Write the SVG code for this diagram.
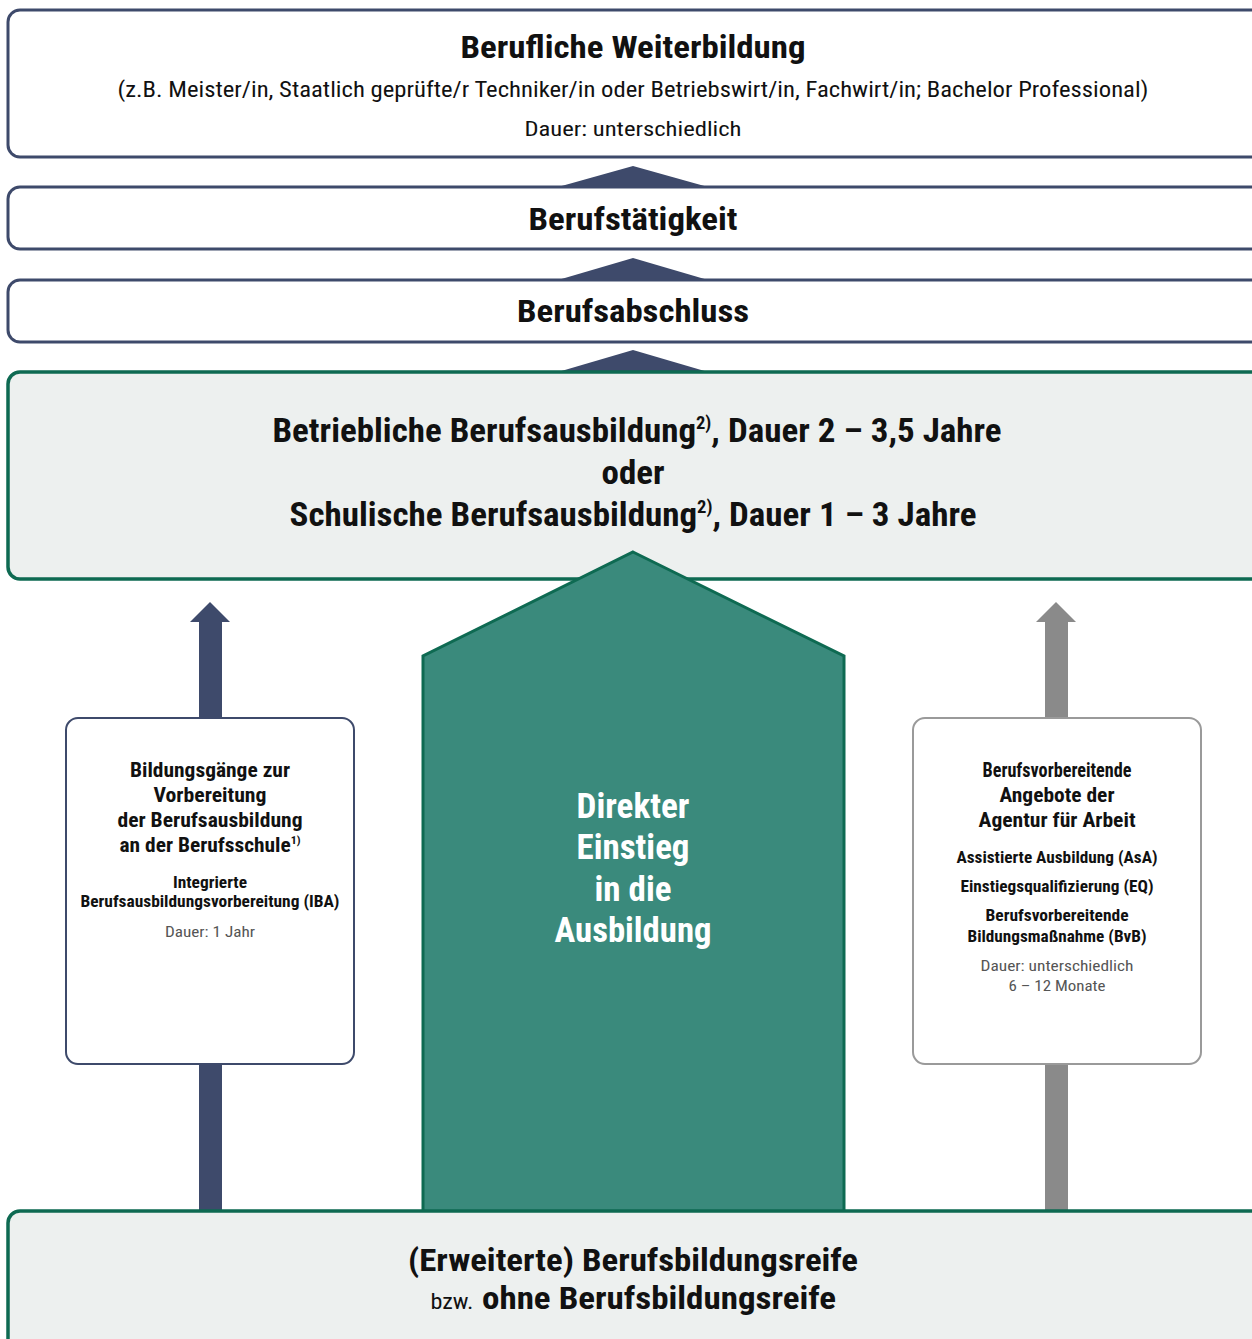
<svg xmlns="http://www.w3.org/2000/svg" width="1252" height="1339" viewBox="0 0 1252 1339">
<style>
text{font-family:"Roboto Condensed",Roboto,"Liberation Sans",sans-serif;fill:#111;text-anchor:middle}
.b{font-weight:700}
.r{font-weight:400}
.big{font-size:34px}
.h2{font-size:20px}
.h3{font-size:16px}
.dur{font-size:15px;fill:#555;font-weight:400}
.blueBox{fill:#fff;stroke:#3e4a6b;stroke-width:3}
.greenBox{fill:#edf0ef;stroke:#0e6a52;stroke-width:3.5}
.blue{fill:#3e4a6b}
.gray{fill:#8a8a8a}
.wt{fill:#fff}
</style>
<rect width="1252" height="1339" fill="#fff"/>

<g id="connectors">
  <polygon class="blue" points="633,166 708,187 558,187"/>
  <polygon class="blue" points="633,258 708,280 558,280"/>
  <polygon class="blue" points="633,350 708,372 558,372"/>
  <rect class="blue" x="199" y="619" width="23" height="593"/>
  <polygon class="blue" points="210,602 230,622 190,622"/>
  <rect class="gray" x="1045" y="619" width="23" height="593"/>
  <polygon class="gray" points="1056,602 1076,622 1036,622"/>
</g>

<g id="weiterbildung">
  <rect class="blueBox" x="8" y="10" width="1262" height="147" rx="12"/>
  <text class="b" x="633" y="58" font-size="32" textLength="345" lengthAdjust="spacingAndGlyphs">Berufliche Weiterbildung</text>
  <text class="r" x="633" y="97" font-size="22" textLength="1031" lengthAdjust="spacingAndGlyphs">(z.B. Meister/in, Staatlich geprüfte/r Techniker/in oder Betriebswirt/in, Fachwirt/in; Bachelor Professional)</text>
  <text class="r" x="633" y="136" font-size="21" textLength="217" lengthAdjust="spacingAndGlyphs">Dauer: unterschiedlich</text>
</g>

<g id="berufstaetigkeit">
  <rect class="blueBox" x="8" y="187" width="1262" height="62" rx="12"/>
  <text class="b" x="633" y="230" font-size="32" textLength="209" lengthAdjust="spacingAndGlyphs">Berufstätigkeit</text>
</g>

<g id="berufsabschluss">
  <rect class="blueBox" x="8" y="280" width="1262" height="62" rx="12"/>
  <text class="b" x="633" y="322" font-size="32" textLength="232" lengthAdjust="spacingAndGlyphs">Berufsabschluss</text>
</g>

<g id="berufsausbildung">
  <rect class="greenBox" x="8" y="372" width="1262" height="207" rx="12"/>
  <text class="b big" x="637" y="442" textLength="729" lengthAdjust="spacingAndGlyphs">Betriebliche Berufsausbildung<tspan font-size="18" dy="-13">2)</tspan><tspan dy="13">, Dauer 2 – 3,5 Jahre</tspan></text>
  <text class="b big" x="633" y="484" textLength="63" lengthAdjust="spacingAndGlyphs">oder</text>
  <text class="b big" x="633" y="526" textLength="687" lengthAdjust="spacingAndGlyphs">Schulische Berufsausbildung<tspan font-size="18" dy="-13">2)</tspan><tspan dy="13">, Dauer 1 – 3 Jahre</tspan></text>
</g>

<g id="direkter-einstieg">
  <polygon points="633,552 844,656 844,1212 423,1212 423,656" fill="#3a8a7c" stroke="#0e6a52" stroke-width="3"/>
  <text class="b wt" x="633" y="818" font-size="35" textLength="113" lengthAdjust="spacingAndGlyphs">Direkter</text>
  <text class="b wt" x="633" y="859" font-size="35" textLength="113" lengthAdjust="spacingAndGlyphs">Einstieg</text>
  <text class="b wt" x="633" y="901" font-size="35" textLength="77" lengthAdjust="spacingAndGlyphs">in die</text>
  <text class="b wt" x="633" y="942" font-size="35" textLength="157" lengthAdjust="spacingAndGlyphs">Ausbildung</text>
</g>

<g id="bildungsgaenge">
  <rect x="66" y="718" width="288" height="346" rx="12" fill="#fff" stroke="#3e4a6b" stroke-width="2"/>
  <text class="b h2" x="210" y="777" textLength="160" lengthAdjust="spacingAndGlyphs">Bildungsgänge zur</text>
  <text class="b h2" x="210" y="802" textLength="113" lengthAdjust="spacingAndGlyphs">Vorbereitung</text>
  <text class="b h2" x="210" y="827" textLength="185" lengthAdjust="spacingAndGlyphs">der Berufsausbildung</text>
  <text class="b h2" x="210" y="852" textLength="181" lengthAdjust="spacingAndGlyphs">an der Berufsschule<tspan font-size="11" dy="-8">1)</tspan></text>
  <text class="b h3" x="210" y="888" textLength="74" lengthAdjust="spacingAndGlyphs">Integrierte</text>
  <text class="b h3" x="210" y="907" textLength="259" lengthAdjust="spacingAndGlyphs">Berufsausbildungsvorbereitung (IBA)</text>
  <text class="dur" x="210" y="937" textLength="90" lengthAdjust="spacingAndGlyphs">Dauer: 1 Jahr</text>
</g>

<g id="agentur">
  <rect x="913" y="718" width="288" height="346" rx="12" fill="#fff" stroke="#9a9a9a" stroke-width="2"/>
  <text class="b h2" x="1057" y="777" textLength="149" lengthAdjust="spacingAndGlyphs">Berufsvorbereitende</text>
  <text class="b h2" x="1057" y="802" textLength="115" lengthAdjust="spacingAndGlyphs">Angebote der</text>
  <text class="b h2" x="1057" y="827" textLength="157" lengthAdjust="spacingAndGlyphs">Agentur für Arbeit</text>
  <text class="b h3" x="1057" y="863" textLength="201" lengthAdjust="spacingAndGlyphs">Assistierte Ausbildung (AsA)</text>
  <text class="b h3" x="1057" y="892" textLength="193" lengthAdjust="spacingAndGlyphs">Einstiegsqualifizierung (EQ)</text>
  <text class="b h3" x="1057" y="921" textLength="143" lengthAdjust="spacingAndGlyphs">Berufsvorbereitende</text>
  <text class="b h3" x="1057" y="942" textLength="179" lengthAdjust="spacingAndGlyphs">Bildungsmaßnahme (BvB)</text>
  <text class="dur" x="1057" y="971" textLength="153" lengthAdjust="spacingAndGlyphs">Dauer: unterschiedlich</text>
  <text class="dur" x="1057" y="991" textLength="97" lengthAdjust="spacingAndGlyphs">6 – 12 Monate</text>
</g>

<g id="berufsbildungsreife">
  <rect class="greenBox" x="8" y="1211" width="1262" height="150" rx="12"/>
  <text class="b" x="633" y="1271" font-size="32" textLength="450" lengthAdjust="spacingAndGlyphs">(Erweiterte) Berufsbildungsreife</text>
  <text class="r" x="452" y="1309" font-size="22" textLength="43" lengthAdjust="spacingAndGlyphs">bzw.</text>
  <text class="b" x="659" y="1309" font-size="32" textLength="354" lengthAdjust="spacingAndGlyphs">ohne Berufsbildungsreife</text>
</g>
</svg>
